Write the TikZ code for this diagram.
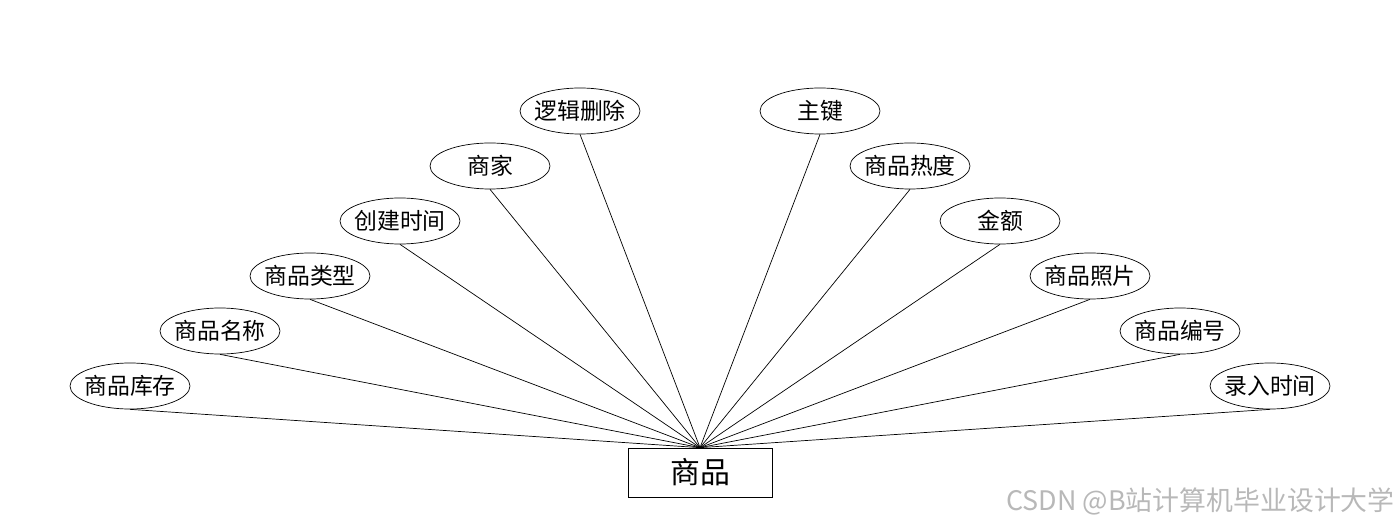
\documentclass[tikz,border=0pt]{standalone}
\usepackage{fontspec}
\setmainfont{Noto Sans CJK SC}
\usepackage{tikz}
\usetikzlibrary{positioning,shapes.geometric}
\tikzset{
  erattr/.style={ellipse, draw, thin, minimum width=24mm, minimum height=9.2mm,
    inner xsep=-2.5pt, inner ysep=0pt, font=\fontsize{13}{15}\selectfont, fill=white},
  erentity/.style={draw, thin, minimum width=28.8mm, minimum height=9.8mm,
    inner sep=0pt, font=\fontsize{17}{19}\selectfont},
  erline/.style={thin},
  ermark/.style={text=black!28, font=\fontsize{15.3}{17}\selectfont},
}

\begin{document}
\begin{tikzpicture}
  \useasboundingbox (0,0) rectangle (28,10.56);
  % 实体
  \node[erentity] (goods) at (14,1.11) {商品};
  % 左侧属性
  \node[erattr] (stock) at (2.6,2.84) {商品库存};
  \node[erattr] (gname) at (4.4,3.94) {商品名称};
  \node[erattr] (gtype) at (6.2,5.04) {商品类型};
  \node[erattr] (ctime) at (8.0,6.14) {创建时间};
  \node[erattr] (shop) at (9.8,7.24) {商家};
  \node[erattr] (ldel) at (11.6,8.34) {逻辑删除};
  % 右侧属性
  \node[erattr] (pkey) at (16.4,8.34) {主键};
  \node[erattr] (heat) at (18.2,7.24) {商品热度};
  \node[erattr] (price) at (20.0,6.14) {金额};
  \node[erattr] (photo) at (21.8,5.04) {商品照片};
  \node[erattr] (gno) at (23.6,3.94) {商品编号};
  \node[erattr] (itime) at (25.4,2.84) {录入时间};
  % 连线
  \draw[erline] (stock.south) -- (goods.north);
  \draw[erline] (gname.south) -- (goods.north);
  \draw[erline] (gtype.south) -- (goods.north);
  \draw[erline] (ctime.south) -- (goods.north);
  \draw[erline] (shop.south) -- (goods.north);
  \draw[erline] (ldel.south) -- (goods.north);
  \draw[erline] (pkey.south) -- (goods.north);
  \draw[erline] (heat.south) -- (goods.north);
  \draw[erline] (price.south) -- (goods.north);
  \draw[erline] (photo.south) -- (goods.north);
  \draw[erline] (gno.south) -- (goods.north);
  \draw[erline] (itime.south) -- (goods.north);
  % 水印
  \node[ermark, anchor=base east, inner sep=0pt] (mark) at (27.9,0.36) {CSDN @B站计算机毕业设计大学};
\end{tikzpicture}
\end{document}
